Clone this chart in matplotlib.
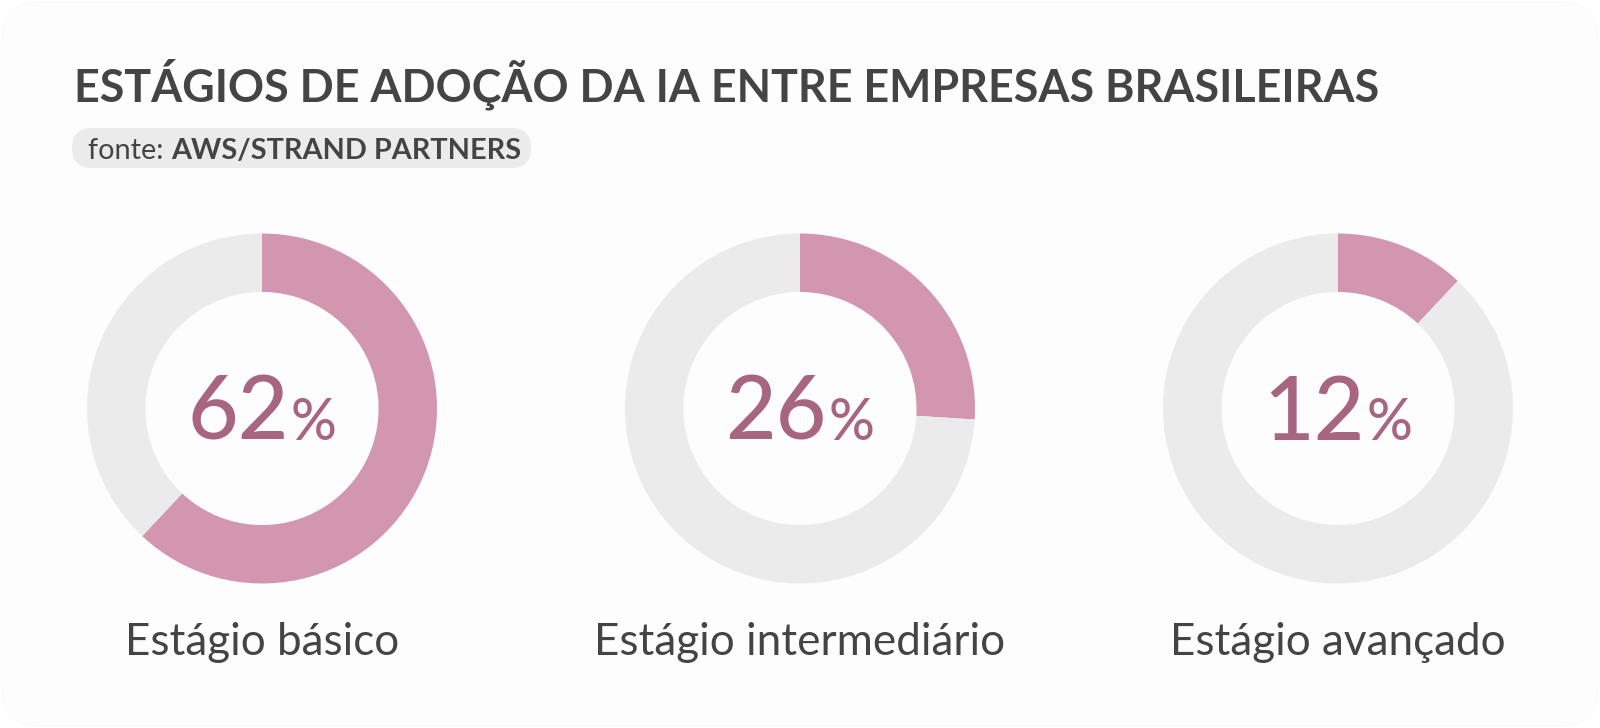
import matplotlib
matplotlib.use("Agg")
import matplotlib.pyplot as plt
from matplotlib.patches import FancyBboxPatch

# data
stages = ["Estágio básico", "Estágio intermediário", "Estágio avançado"]
shares = [62, 26, 12]

title = "ESTÁGIOS DE ADOÇÃO DA IA ENTRE EMPRESAS BRASILEIRAS"
source_prefix = "fonte:"
source_name = "AWS/STRAND PARTNERS"

PINK = "#d396b0"
PINK_DARK = "#a8657f"
GREY = "#ebebeb"
TEXT = "#444444"

W, H = 1600, 728
plt.rcParams["font.family"] = ["Lato", "DejaVu Sans"]

fig = plt.figure(figsize=(W / 100, H / 100), dpi=100, facecolor="white")

# background axes in pixel coordinates
bg = fig.add_axes([0, 0, 1, 1])
bg.set_xlim(0, W)
bg.set_ylim(H, 0)
bg.axis("off")

card = FancyBboxPatch((2, 2), W - 4, H - 4, boxstyle="round,pad=0,rounding_size=40",
                      facecolor="#fdfdfd", edgecolor="#f6f6f6", lw=0.6)
bg.add_patch(card)

bg.text(74, 101, title, fontsize=32.2, fontweight="bold", color=TEXT, va="baseline", ha="left")

pill = FancyBboxPatch((72, 128), 459, 40, boxstyle="round,pad=0,rounding_size=20",
                      facecolor=GREY, edgecolor="none")
bg.add_patch(pill)
t1 = bg.text(88, 159, source_prefix + " ", fontsize=20.8, color=TEXT, va="baseline", ha="left")
fig.canvas.draw()
renderer = fig.canvas.get_renderer()
ext = t1.get_window_extent(renderer)
bg.text(ext.x1, 159, source_name, fontsize=20.8, fontweight="bold", color=TEXT,
        va="baseline", ha="left")

# donuts
centers_x = [262, 800, 1338]
center_y = 408.5
radius = 175

for cx, share, label in zip(centers_x, shares, stages):
    ax = fig.add_axes([(cx - radius) / W, (H - center_y - radius) / H, 2 * radius / W, 2 * radius / H])
    ax.pie([share, 100 - share], colors=[PINK, GREY], startangle=90, counterclock=False,
           radius=1, wedgeprops=dict(width=0.334, edgecolor="none", linewidth=0))
    ax.set_xlim(-1, 1)
    ax.set_ylim(-1, 1)
    ax.set_aspect("equal")
    ax.axis("off")

    # percentage: big number + smaller % sign, centred together
    num = ax.text(0, 0, str(share), fontsize=63, fontweight="medium", color=PINK_DARK,
                  ha="left", va="baseline")
    pct = ax.text(0, 0, "%", fontsize=41, fontweight="medium", color=PINK_DARK,
                  ha="left", va="baseline")
    fig.canvas.draw()
    wn = num.get_window_extent(renderer).width
    wp = pct.get_window_extent(renderer).width
    gap = 2
    total = wn + gap + wp
    px_to_data = 2.0 / (2 * radius)
    base_y = -31.5 * px_to_data
    num.set_position((-total / 2 * px_to_data, base_y))
    pct.set_position(((-total / 2 + wn + gap) * px_to_data, base_y))

    bg.text(cx, 655, label, fontsize=31.7, color=TEXT, ha="center", va="baseline")

fig.savefig("out.png", dpi=100, facecolor="white")
